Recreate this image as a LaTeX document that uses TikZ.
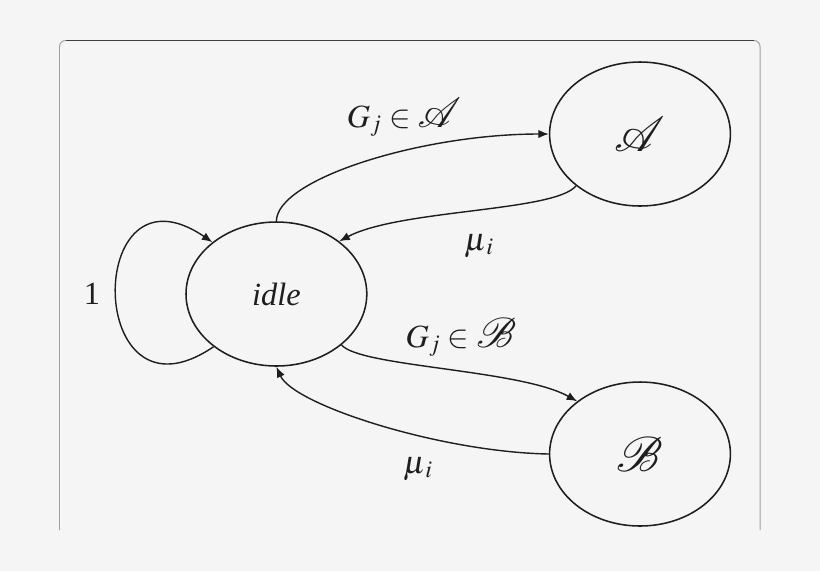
\documentclass[tikz,border=0pt]{standalone}
\usepackage{mathptmx}
\usepackage{mathrsfs}
\usepackage{fontspec}
\setmainfont{Liberation Serif}
\usetikzlibrary{shapes.geometric,arrows.meta,positioning}
\definecolor{bgcol}{HTML}{F5F5F5}
\definecolor{frameside}{HTML}{A0A0A0}
\definecolor{frametop}{HTML}{404040}
\definecolor{inkcol}{HTML}{1E1E1E}
\begin{document}
\begin{tikzpicture}[
    state/.style={draw=inkcol,ellipse,line width=1.1pt,inner sep=0pt,
      minimum width=4.52cm,minimum height=3.6cm},
    lbl/.style={inner sep=0pt,anchor=base},
    arr/.style={draw=inkcol,line width=1pt,-{Latex[length=7.5pt,width=6pt]}},
    every node/.style={text=inkcol,font=\fontsize{23}{27}\selectfont}
  ]
  \fill[bgcol] (0,0) rectangle (20.5,-14.275);
  \useasboundingbox (0,0) rectangle (20.5,-14.275);
  % frame
  \draw[frameside,line width=0.7pt,rounded corners=0.15cm]
    (1.4875,-13.25) -- (1.4875,-1.0125) -- (19,-1.0125) -- (19,-13.25);
  \draw[frametop,line width=0.9pt] (1.65,-1.0125) -- (18.84,-1.0125);
  % states
  \node[state] (idle) at (6.91,-7.35) {\textit{idle}};
  \node[state] (A) at (16,-3.35) {\scalebox{1.4}{$\mathscr{A}$}};
  \node[state] (B) at (16,-11.35) {\scalebox{1.4}{$\mathscr{B}$}};
  \node[inner sep=0pt,left=2.12cm of idle] (one) {1};
  % labels
  \node[lbl] (lblGA) at (10.1,-3.175) {$G_j \in \scalebox{1.2}{$\mathscr{A}$}$};
  \node[lbl] (lblMuA) at (11.975,-6.25) {$\mu_{\,i}$};
  \node[lbl] (lblGB) at (11.525,-8.675) {$G_j \in \scalebox{1.2}{$\mathscr{B}$}$};
  \node[lbl] (lblMuB) at (10.45,-11.825) {$\mu_{\,i}$};
  % transitions
  \path[arr] (idle.north) .. controls +(0,1.05) and +(-3.2,0) .. (A.west);
  \path[arr] (A.219) .. controls +(-0.525,-0.65) and +(1.5,0.8) .. (idle.40);
  \path[arr] (idle.-38) .. controls +(0.45,-0.55) and +(-1.425,0.8) .. (B.140);
  \path[arr] (B.west) .. controls +(-2.725,0.05) and +(0.425,-0.95) .. (idle.south);
  \path[arr] (idle.220) .. controls +(-3.225,-2.2) and +(-3.225,2.2) .. (idle.141);
\end{tikzpicture}
\end{document}
